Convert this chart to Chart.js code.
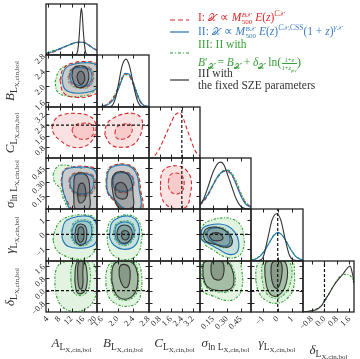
<!DOCTYPE html>
<html>
<head>
<meta charset="utf-8">
<script src="https://cdn.jsdelivr.net/npm/chart.js@4.4.1/dist/chart.umd.min.js"></script>
<style>
  body { margin: 0; background: #fff; }
  #wrap { position: relative; width: 360px; height: 359px; overflow: hidden; background: #fff; font-family: 'Liberation Serif', serif; }
  #plot { position: absolute; left: 0; top: 0; width: 360px; height: 359px; }
  #stage { position: absolute; left: -1000px; top: 0; }
  .ax { position: absolute; font-size: 13px; color: #333; white-space: nowrap; line-height: 1; }
  .ax .s1 { font-size: 9.5px; vertical-align: -3px; }
  .ax .s2 { font-size: 7px; vertical-align: -2px; }
  .lg { position: absolute; font-size: 11.5px; white-space: nowrap; line-height: 1; }
  .lg sub, .lg sup { font-size: 7.5px; line-height: 0; }
  .ss { display: inline-flex; flex-direction: column; font-size: 7px; line-height: 7px; vertical-align: middle; margin-left: 0.5px; }
  .fr { display: inline-flex; flex-direction: column; font-size: 6.5px; line-height: 7px; vertical-align: middle; text-align: center; }
  .fr span:first-child { border-bottom: 0.7px solid currentColor; }
  .x { font-family: 'DejaVu Sans', 'Noto Sans', serif; font-size: 10px; }
  .xs { font-family: 'DejaVu Sans', 'Noto Sans', serif; font-size: 6px; }
  .sw { position: absolute; }
</style>
</head>
<body>
<div id="wrap">
  <canvas id="plot" width="360" height="359"></canvas>
  <div class="lg" style="left:198px;top:11px;color:#d62728">I: <span class="x">𝒳</span> ∝ <i>M</i><span class="ss"><span><i>B</i><span class="xs">𝒳</span></span><span>500</span></span> <i>E</i>(<i>z</i>)<sup><i>C</i><span class="xs">𝒳</span></sup></div>
  <div class="lg" style="left:198px;top:25px;color:#3b7dc4">II: <span class="x">𝒳</span> ∝ <i>M</i><span class="ss"><span><i>B</i><span class="xs">𝒳</span></span><span>500</span></span> <i>E</i>(<i>z</i>)<sup><i>C</i><span class="xs">𝒳</span>,CSS</sup>(1 + <i>z</i>)<sup><i>γ</i><span class="xs">𝒳</span></sup></div>
  <div class="lg" style="left:198px;top:39px;color:#3aa03a">III: II with</div>
  <div class="lg" style="left:198px;top:55px;color:#3aa03a"><i>B</i>′<sub class="xs">𝒳</sub> = <i>B</i><sub class="xs">𝒳</sub> + <i>δ</i><sub class="xs">𝒳</sub> ln<span style="font-size:13px">(</span><span class="fr"><span>1+<i>z</i></span><span>1+<i>z</i><sub style="font-size:4.5px">piv</sub></span></span><span style="font-size:13px">)</span></div>
  <div class="lg" style="left:198px;top:68px;color:#333">III with</div>
  <div class="lg" style="left:198px;top:80px;color:#333">the fixed SZE parameters</div>
  <svg class="sw" style="left:168px;top:0px" width="24" height="90">
    <line x1="2" y1="20" x2="21" y2="20" stroke="#d62728" stroke-width="1.2" stroke-dasharray="5,3"/>
    <line x1="2" y1="32" x2="21" y2="32" stroke="#1f77b4" stroke-width="1.2"/>
    <line x1="2" y1="53" x2="21" y2="53" stroke="#2ca02c" stroke-width="1.2" stroke-dasharray="3,2,1,2"/>
    <line x1="2" y1="80" x2="21" y2="80" stroke="#333" stroke-width="1.2"/>
  </svg>
</div>
<div id="stage"></div>
<script>
// axis limits and tick labels
const rangeA = [3.5, 20.5], ticksA = [4, 8, 12, 16, 20];
const rangeB = [1.47, 2.81], ticksB = [1.6, 2.0, 2.4, 2.8];
const rangeC = [0.0, 3.73], ticksC = [0.8, 1.6, 2.4, 3.2];
const rangeS = [0.01, 0.56], ticksS = [0.15, 0.30, 0.45];
const rangeG = [-1.85, 1.75], ticksG = [-1, 0, 1];
const rangeD = [-1.38, 1.9], ticksD = [-0.8, 0.0, 0.8, 1.6];

// fixed parameter values (dashed lines)
const fixedC = 2.4, fixedG = 0, fixedD = 0;

// 1D marginals (height as fraction of panel)
const dA_x = [3.5, 6, 8, 10, 12, 14, 15.5, 17, 18.5, 20.5];
const dA_blue = [0.03, 0.07, 0.12, 0.17, 0.22, 0.25, 0.25, 0.22, 0.16, 0.08];
const dA_red = [0.02, 0.06, 0.11, 0.17, 0.22, 0.25, 0.26, 0.23, 0.17, 0.09];
const dA_green = [0.03, 0.09, 0.12, 0.16, 0.21, 0.24, 0.25, 0.22, 0.16, 0.09];
const dA_bx = [3.5, 12, 13.5, 14.1, 14.6, 15.0, 15.3, 15.6, 16.0, 16.5, 17.1, 18.5, 20.5];
const dA_black = [0, 0, 0.01, 0.1, 0.4, 0.78, 0.92, 0.78, 0.42, 0.12, 0.01, 0, 0];

const dB_x = [1.47, 1.6, 1.7, 1.8, 1.9, 2.0, 2.1, 2.2, 2.3, 2.4, 2.5, 2.6, 2.7, 2.81];
const dB_blue = [0, 0.01, 0.03, 0.07, 0.15, 0.3, 0.5, 0.65, 0.63, 0.47, 0.25, 0.09, 0.02, 0.01];
const dB_red = [0, 0.01, 0.04, 0.09, 0.18, 0.33, 0.52, 0.64, 0.6, 0.44, 0.23, 0.08, 0.02, 0.01];
const dB_green = [0, 0.02, 0.04, 0.1, 0.2, 0.36, 0.55, 0.62, 0.6, 0.48, 0.28, 0.1, 0.03, 0.01];
const dB_bx = [1.47, 1.75, 1.85, 1.95, 2.03, 2.12, 2.22, 2.31, 2.41, 2.5, 2.6, 2.81];
const dB_black = [0, 0, 0.02, 0.18, 0.47, 0.8, 0.92, 0.78, 0.42, 0.15, 0.02, 0];

const dC_x = [0, 0.3, 0.7, 1.1, 1.5, 1.9, 2.2, 2.5, 2.8, 3.1, 3.4, 3.73];
const dC_red = [0, 0.02, 0.15, 0.38, 0.62, 0.84, 0.89, 0.78, 0.55, 0.33, 0.13, 0.04];

const dS_x = [0.01, 0.05, 0.1, 0.15, 0.2, 0.25, 0.3, 0.35, 0.4, 0.45, 0.5, 0.56];
const dS_blue = [0.1, 0.17, 0.3, 0.47, 0.63, 0.73, 0.76, 0.68, 0.48, 0.26, 0.1, 0.03];
const dS_red = [0.08, 0.15, 0.28, 0.46, 0.62, 0.72, 0.74, 0.67, 0.5, 0.28, 0.12, 0.04];
const dS_green = [0.1, 0.18, 0.31, 0.48, 0.64, 0.74, 0.77, 0.71, 0.55, 0.32, 0.14, 0.05];
const dS_bx = [0.01, 0.05, 0.1, 0.15, 0.2, 0.235, 0.27, 0.31, 0.35, 0.4, 0.45, 0.5, 0.56];
const dS_black = [0.08, 0.2, 0.45, 0.72, 0.89, 0.92, 0.86, 0.66, 0.45, 0.2, 0.05, 0.01, 0];

const dG_x = [-1.85, -1.5, -1.2, -0.9, -0.6, -0.3, 0.02, 0.3, 0.6, 0.9, 1.2, 1.5, 1.75];
const dG_blue = [0.01, 0.04, 0.1, 0.2, 0.34, 0.48, 0.55, 0.5, 0.37, 0.22, 0.1, 0.04, 0.02];
const dG_green = [0.02, 0.05, 0.11, 0.21, 0.35, 0.49, 0.54, 0.5, 0.38, 0.23, 0.11, 0.05, 0.02];
const dG_bx = [-1.85, -1.3, -1.0, -0.7, -0.4, -0.09, 0.2, 0.5, 0.8, 1.1, 1.75];
const dG_black = [0, 0.01, 0.08, 0.42, 0.78, 0.91, 0.8, 0.44, 0.12, 0.02, 0];

const dD_x = [-1.38, -0.9, -0.5, -0.2, 0, 0.3, 0.6, 0.9, 1.2, 1.5, 1.65, 1.8, 1.9];
const dD_black = [0, 0.02, 0.05, 0.12, 0.22, 0.36, 0.52, 0.64, 0.75, 0.87, 0.9, 0.75, 0.58];
const dD_gx = [-1.38, -0.8, -0.3, 0, 0.4, 0.8, 1.1, 1.4, 1.6, 1.8, 1.9];
const dD_green = [0, 0.03, 0.1, 0.2, 0.42, 0.62, 0.72, 0.74, 0.72, 0.65, 0.55];

// 2D contours: [outer, inner], points [x, y]
const BA_green = [[[6.48,2.11],[8.14,2.43],[11.45,2.56],[15.43,2.61],[19.08,2.58],[20.7,2.43],[20.7,2.11],[19.08,1.85],[15.43,1.75],[10.79,1.75],[7.48,1.85]],
  [[10.79,2.22],[11.79,2.43],[14.77,2.50],[18.08,2.48],[19.41,2.27],[18.08,2.01],[14.1,1.96],[11.45,2.06]]];
const BA_red = [[[8.14,2.16],[9.47,2.48],[12.78,2.61],[16.76,2.64],[20.4,2.58],[21.4,2.30],[21.1,1.90],[18.08,1.75],[13.44,1.72],[9.47,1.83]],
  [[11.12,2.24],[12.12,2.45],[15.43,2.50],[18.41,2.45],[19.08,2.22],[17.75,2.01],[14.1,1.98],[11.79,2.09]]];
const BA_blue = [[[8.8,2.22],[10.13,2.48],[13.11,2.58],[16.76,2.61],[20.07,2.56],[21.06,2.30],[20.4,1.96],[17.42,1.85],[13.11,1.83],[9.8,1.93]],
  [[11.45,2.27],[12.45,2.45],[15.43,2.48],[18.08,2.43],[18.74,2.22],[17.42,2.03],[14.1,2.03],[12.12,2.11]]];
const BA_black = [[[12.12,2.27],[12.78,2.48],[14.77,2.53],[16.76,2.50],[17.75,2.32],[17.42,2.11],[15.76,1.98],[13.44,2.01]],
  [[13.77,2.24],[14.44,2.37],[15.76,2.37],[16.43,2.24],[16.09,2.11],[14.77,2.06]]];

const CA_red = [[[5.49,2.25],[6.81,2.90],[9.47,3.19],[13.44,3.26],[17.42,3.12],[19.74,2.68],[20.07,1.96],[18.74,1.23],[15.43,0.79],[11.45,0.86],[8.14,1.30],[6.15,1.74]],
  [[12.12,2.03],[13.11,2.39],[15.76,2.54],[18.41,2.47],[19.41,2.03],[18.41,1.52],[15.43,1.37],[13.11,1.59]]];
const CB_red = [[[1.67,1.67],[1.72,2.47],[1.88,2.90],[2.12,3.19],[2.40,3.26],[2.59,2.97],[2.64,2.32],[2.56,1.52],[2.38,0.94],[2.12,0.79],[1.85,0.94]],
  [[1.93,1.81],[1.98,2.25],[2.14,2.47],[2.32,2.47],[2.38,2.10],[2.30,1.59],[2.12,1.37],[1.98,1.45]]];

const SA_green = [[[5.82,0.376],[7.15,0.462],[9.47,0.484],[14.77,0.452],[19.08,0.452],[20.7,0.345],[20.7,0.109],[19.74,-0.01],[12.12,-0.01],[9.47,0.109],[8.14,0.237],[6.48,0.291]],
  [[11.3,0.33],[12.8,0.39],[16.4,0.4],[19.4,0.36],[20,0.26],[18.4,0.17],[14.5,0.15],[11.8,0.22]]];
const SA_blue = [[[8.8,0.323],[9.47,0.42],[11.45,0.452],[14.77,0.462],[18.08,0.452],[20.07,0.409],[20.7,0.216],[20.07,0.012],[12.12,0.001],[10.13,0.109],[9.13,0.216]],
  [[11.45,0.323],[12.78,0.377],[16.09,0.387],[18.74,0.366],[19.41,0.28],[18.08,0.194],[14.77,0.173],[12.12,0.227]]];
const SA_red = [[[8.5,0.31],[9.5,0.43],[12.1,0.46],[16.4,0.47],[20.1,0.43],[20.9,0.25],[20.7,0.05],[19.7,-0.01],[13,-0.01],[10.5,0.1],[9.2,0.2]],
  [[11.1,0.32],[12.5,0.39],[16.1,0.40],[19.1,0.37],[19.8,0.27],[18.4,0.18],[14.8,0.16],[12,0.21]]];
const SA_black = [[[12.78,0.27],[13.11,0.366],[14.44,0.398],[16.43,0.387],[17.75,0.323],[18.08,0.162],[17.75,0.012],[13.44,0.012],[12.78,0.13]],
  [[14.1,0.216],[14.77,0.28],[16.09,0.28],[16.76,0.194],[16.43,0.109],[14.77,0.076],[14.1,0.141]]];

const SB_blue = [[[1.72,0.323],[1.78,0.43],[1.93,0.473],[2.17,0.484],[2.38,0.452],[2.51,0.366],[2.56,0.216],[2.61,0.055],[2.53,0.001],[2.19,0.012],[1.93,0.109],[1.75,0.194]],
  [[1.88,0.323],[1.96,0.387],[2.17,0.398],[2.35,0.366],[2.40,0.28],[2.30,0.216],[2.06,0.205],[1.91,0.248]]];
const SB_red = [[[1.71,0.31],[1.77,0.44],[1.92,0.485],[2.18,0.495],[2.40,0.46],[2.54,0.37],[2.6,0.2],[2.66,0.05],[2.6,-0.01],[2.18,0.0],[1.91,0.1],[1.74,0.19]],
  [[1.86,0.32],[1.95,0.4],[2.18,0.41],[2.37,0.37],[2.42,0.27],[2.33,0.2],[2.05,0.19],[1.9,0.24]]];
const SB_green = [[[1.7,0.32],[1.76,0.44],[1.92,0.48],[2.17,0.49],[2.4,0.46],[2.53,0.37],[2.58,0.21],[2.63,0.05],[2.55,-0.01],[2.17,0.0],[1.91,0.1],[1.73,0.2]],
  [[1.87,0.33],[1.96,0.39],[2.17,0.405],[2.36,0.37],[2.41,0.28],[2.31,0.21],[2.06,0.2],[1.9,0.25]]];
const SB_black = [[[1.85,0.27],[1.88,0.366],[2.01,0.409],[2.22,0.398],[2.35,0.323],[2.40,0.162],[2.38,0.023],[2.06,0.012],[1.91,0.13]],
  [[1.93,0.216],[1.98,0.28],[2.14,0.291],[2.25,0.216],[2.22,0.13],[2.06,0.12],[1.96,0.152]]];

const SC_red = [[[0.83,0.27],[0.97,0.409],[1.41,0.462],[2.14,0.473],[2.72,0.43],[3.08,0.323],[3.01,0.162],[2.72,0.033],[1.99,0.012],[1.27,0.055],[0.90,0.152]],
  [[1.41,0.302],[1.56,0.377],[1.99,0.398],[2.43,0.366],[2.57,0.27],[2.36,0.194],[1.85,0.173],[1.48,0.227]]];

const GA_green = [[[5.82,-0.41],[6.81,0.43],[8.8,0.99],[12.12,1.27],[16.43,1.34],[19.74,1.13],[20.7,0.29],[20.4,-0.76],[18.08,-1.53],[14.1,-1.74],[10.13,-1.53],[7.15,-1.11]],
  [[11.8,0.2],[12.8,0.8],[15.4,1.0],[18.4,0.85],[19.1,0.15],[18.1,-0.55],[14.8,-0.8],[12.4,-0.45]]];
const GA_blue = [[[8.8,0.15],[9.8,0.85],[12.12,1.13],[15.76,1.27],[19.08,1.13],[20.4,0.57],[20.4,-0.41],[18.74,-0.83],[14.77,-0.97],[10.79,-0.83],[9.13,-0.41]],
  [[12.12,0.15],[13.11,0.71],[15.43,0.92],[18.08,0.78],[18.74,0.15],[17.75,-0.48],[14.77,-0.69],[12.78,-0.41]]];
const GA_black = [[[13.11,0.01],[13.77,0.57],[15.1,0.71],[16.76,0.5],[17.09,-0.13],[16.43,-0.62],[14.77,-0.76],[13.44,-0.48]],
  [[14.1,0.01],[14.44,0.43],[15.43,0.5],[16.09,0.29],[16.09,-0.27],[15.1,-0.55],[14.1,-0.34]]];

const GB_green = [[[1.72,0.15],[1.80,0.85],[1.98,1.2],[2.25,1.34],[2.48,1.13],[2.61,0.43],[2.61,-0.55],[2.51,-1.39],[2.27,-1.74],[1.96,-1.6],[1.78,-0.97]],
  [[1.9,0.15],[1.96,0.7],[2.17,0.92],[2.37,0.78],[2.45,0.15],[2.37,-0.48],[2.17,-0.78],[1.96,-0.48]]];
const GB_blue = [[[1.80,0.15],[1.85,0.78],[2.01,1.13],[2.25,1.27],[2.45,1.06],[2.56,0.43],[2.53,-0.41],[2.40,-0.9],[2.14,-1.04],[1.91,-0.76],[1.80,-0.27]],
  [[1.93,0.15],[1.98,0.64],[2.17,0.85],[2.35,0.71],[2.43,0.15],[2.35,-0.41],[2.17,-0.69],[1.98,-0.41]]];
const GB_black = [[[1.98,0.08],[2.04,0.5],[2.17,0.64],[2.32,0.5],[2.38,0.01],[2.30,-0.48],[2.14,-0.62],[2.01,-0.34]],
  [[2.09,0.01],[2.14,0.22],[2.25,0.22],[2.30,-0.06],[2.25,-0.34],[2.14,-0.34]]];

const GS_green = [[[0.021,0.15],[0.053,0.71],[0.139,0.99],[0.246,1.13],[0.353,1.06],[0.439,0.71],[0.482,-0.13],[0.471,-1.11],[0.396,-1.6],[0.267,-1.53],[0.16,-1.11],[0.064,-0.69]],
  [[0.06,0.05],[0.11,0.42],[0.21,0.5],[0.3,0.27],[0.35,-0.3],[0.32,-0.85],[0.22,-0.85],[0.11,-0.45]]];
const GS_blue = [[[0.021,0.01],[0.042,0.43],[0.117,0.64],[0.214,0.71],[0.31,0.57],[0.385,0.15],[0.428,-0.55],[0.407,-1.25],[0.321,-1.39],[0.214,-1.04],[0.096,-0.62],[0.031,-0.41]],
  [[0.074,0.01],[0.117,0.36],[0.203,0.43],[0.289,0.22],[0.332,-0.27],[0.31,-0.76],[0.224,-0.76],[0.117,-0.41]]];
const GS_black = [[[0.042,-0.06],[0.074,0.36],[0.16,0.5],[0.257,0.36],[0.342,-0.13],[0.353,-0.69],[0.289,-0.9],[0.171,-0.69],[0.074,-0.48]],
  [[0.107,-0.13],[0.149,0.08],[0.214,0.08],[0.257,-0.2],[0.235,-0.41],[0.149,-0.41]]];

const DA_green = [[[6.48,0.33],[6.81,1.29],[8.8,1.8],[13.11,1.93],[18.08,1.93],[20.07,1.42],[20.4,0.33],[19.41,-0.63],[16.43,-1.2],[12.12,-1.33],[8.8,-1.01],[7.15,-0.43]],
  [[11.79,0.65],[12.12,1.61],[14.1,1.93],[16.76,1.93],[18.08,1.42],[18.08,0.4],[16.76,-0.18],[14.1,-0.31],[12.45,0.01]]];
const DA_black = [[[13.11,0.65],[13.44,1.61],[14.44,1.93],[16.09,1.93],[17.09,1.29],[17.09,0.33],[16.09,-0.11],[14.1,-0.18],[13.44,0.14]],
  [[14.1,0.78],[14.1,1.55],[14.77,1.93],[15.76,1.93],[15.76,1.16],[15.76,0.33],[15.1,0.08],[14.44,0.27]]];

const DB_green = [[[1.70,0.33],[1.72,1.29],[1.85,1.8],[2.19,1.93],[2.51,1.8],[2.61,1.16],[2.61,0.01],[2.51,-0.75],[2.27,-1.01],[1.98,-0.88],[1.78,-0.43]],
  [[1.83,0.65],[1.85,1.61],[2.01,1.93],[2.35,1.93],[2.51,1.42],[2.53,0.27],[2.43,-0.37],[2.17,-0.63],[1.93,-0.31]]];
const DB_black = [[[1.85,0.65],[1.88,1.55],[2.01,1.87],[2.32,1.87],[2.48,1.42],[2.51,0.33],[2.40,-0.31],[2.17,-0.56],[1.96,-0.24]],
  [[2.04,0.97],[2.06,1.55],[2.17,1.68],[2.30,1.48],[2.32,0.78],[2.27,0.27],[2.17,0.21],[2.09,0.53]]];

const DS_green = [[[0.021,0.33],[0.021,1.42],[0.074,1.93],[0.246,2.0],[0.417,1.93],[0.46,1.29],[0.46,0.14],[0.396,-0.5],[0.289,-0.63],[0.16,-0.37],[0.053,-0.11]],
  [[0.03,0.97],[0.045,1.85],[0.11,2.0],[0.29,2.0],[0.365,1.42],[0.39,0.5],[0.34,0.0],[0.2,-0.08],[0.075,0.25]]];
const DS_black = [[[0.042,0.97],[0.053,1.8],[0.117,1.93],[0.278,1.93],[0.353,1.42],[0.375,0.53],[0.332,0.08],[0.203,0.01],[0.085,0.27]],
  [[0.128,1.29],[0.139,1.8],[0.203,1.93],[0.257,1.8],[0.267,1.16],[0.235,0.72],[0.171,0.72],[0.139,0.97]]];

const DG_green = [[[-1.52,0.65],[-1.45,1.55],[-1.1,1.93],[0.16,2.0],[1.01,1.87],[1.15,1.16],[1.08,0.14],[0.66,-0.5],[-0.05,-0.82],[-0.82,-0.63],[-1.31,-0.11]],
  [[-1.1,0.78],[-1.03,1.74],[-0.54,2.0],[0.52,2.0],[0.94,1.55],[0.87,0.46],[0.45,-0.24],[-0.19,-0.5],[-0.82,-0.11]]];
const DG_black = [[[-0.89,0.97],[-0.82,1.8],[-0.4,1.93],[0.37,1.93],[0.66,1.42],[0.59,0.46],[0.23,-0.18],[-0.26,-0.37],[-0.68,0.01]],
  [[-0.47,1.1],[-0.4,1.74],[-0.12,1.93],[0.23,1.8],[0.3,1.16],[0.16,0.46],[-0.05,0.14],[-0.33,0.4]]];

// ---------- drawing ----------
// each panel is a Chart.js chart on one work canvas, copied into the visible canvas
const wrap = document.getElementById('wrap');
const plot = document.getElementById('plot').getContext('2d');
const work = document.createElement('canvas');
document.getElementById('stage').appendChild(work);

const colL = [46, 97, 149, 200, 251, 303, 354];
const rowT = [4, 55, 107, 158, 209, 261, 312];

const pA = { range: rangeA, ticks: ticksA, dec: 0 };
const pB = { range: rangeB, ticks: ticksB, dec: 1 };
const pC = { range: rangeC, ticks: ticksC, dec: 1 };
const pS = { range: rangeS, ticks: ticksS, dec: 2 };
const pG = { range: rangeG, ticks: ticksG, dec: 0 };
const pD = { range: rangeD, ticks: ticksD, dec: 1 };
const params = [pA, pB, pC, pS, pG, pD];

const COL = { red: '#d62728', blue: '#1f77b4', green: '#2ca02c', black: '#333333' };
const FILL = { red: 'rgba(235,110,110,0.2)', blue: 'rgba(80,145,205,0.2)', green: 'rgba(110,195,110,0.2)', black: 'rgba(45,45,45,0.24)' };
const DASH = { red: [4, 2.5], blue: [], green: [2.5, 1.5, 1, 1.5], black: [] };

function contour(c, s) {
  return c.map(pts => {
    const d = pts.map(([x, y]) => ({ x, y }));
    d.push(d[0]);
    return { data: d, showLine: true, pointRadius: 0, tension: 0.45, borderWidth: 1.1,
      borderColor: COL[s], borderDash: DASH[s], backgroundColor: FILL[s], fill: 'shape' };
  });
}
function curve(xs, ys, s) {
  return { data: xs.map((x, k) => ({ x, y: ys[k] })), showLine: true, pointRadius: 0,
    cubicInterpolationMode: 'monotone', borderWidth: 1.1, borderColor: COL[s], borderDash: DASH[s], fill: false };
}
function refH(v, p) {
  return { data: [{ x: p.range[0], y: v }, { x: p.range[1], y: v }], showLine: true, pointRadius: 0,
    borderColor: '#111', borderWidth: 1.2, borderDash: [3, 2], fill: false };
}
function refV(v, r) {
  return { data: [{ x: v, y: r[0] }, { x: v, y: r[1] }], showLine: true, pointRadius: 0,
    borderColor: '#111', borderWidth: 1.2, borderDash: [3, 2], fill: false };
}
function fmt(v, dec) {
  return v.toFixed(dec).replace('-', '\u2212');
}

const frame = {
  id: 'frame',
  afterDraw(chart) {
    const { ctx, chartArea: a } = chart;
    const xs = chart.scales.x, ys = chart.scales.y;
    ctx.save();
    ctx.strokeStyle = '#222';
    ctx.lineWidth = 1;
    ctx.setLineDash([]);
    ctx.beginPath();
    xs.ticks.forEach(t => {
      const p = Math.round(xs.getPixelForValue(t.value)) + 0.5;
      if (p > a.left + 1 && p < a.right - 1) {
        ctx.moveTo(p, a.bottom); ctx.lineTo(p, a.bottom - 3.5);
        ctx.moveTo(p, a.top); ctx.lineTo(p, a.top + 3.5);
      }
    });
    if (chart.options.scales.y.display !== false) {
      ys.ticks.forEach(t => {
        const p = Math.round(ys.getPixelForValue(t.value)) + 0.5;
        if (p > a.top + 1 && p < a.bottom - 1) {
          ctx.moveTo(a.left, p); ctx.lineTo(a.left + 3.5, p);
          ctx.moveTo(a.right, p); ctx.lineTo(a.right - 3.5, p);
        }
      });
    }
    ctx.stroke();
    ctx.lineWidth = 1.3;
    ctx.strokeRect(a.left, a.top, a.right - a.left, a.bottom - a.top);
    ctx.restore();
  }
};

function axis(p, show, dir, size) {
  return {
    type: 'linear', min: p.range[0], max: p.range[1],
    position: dir === 'x' ? 'bottom' : 'left',
    grid: { display: false, drawTicks: false }, border: { display: false },
    ticks: { display: show, autoSkip: false, minRotation: 45, maxRotation: 45, padding: 2, color: '#222',
      font: { family: 'Liberation Serif', size: 8.5 }, callback: v => fmt(v, p.dec) },
    afterBuildTicks: s => { s.ticks = p.ticks.map(v => ({ value: v })); },
    afterFit: s => {
      if (dir === 'x') { s.height = size; s.paddingLeft = 0; s.paddingRight = 0; }
      else { s.width = size; s.paddingTop = 0; s.paddingBottom = 0; }
    }
  };
}

function makePanel(i, j, datasets) {
  const L = colL[j], R = colL[j + 1], T = rowT[i], B = rowT[i + 1];
  const yAx = j === 0 && i > 0, xAx = i === 5, m = 3;
  const cx = yAx ? 0 : L - m, cy = T - m;
  const cw = R + m - cx, ch = (xAx ? 359 : B + m) - cy;
  work.width = cw; work.height = ch;
  work.style.width = cw + 'px'; work.style.height = ch + 'px';
  const diag = i === j;
  const chart = new Chart(work, {
    type: 'scatter',
    data: { datasets },
    options: {
      responsive: false, animation: false, devicePixelRatio: 1,
      layout: { padding: { left: yAx ? 0 : m, right: m, top: m, bottom: xAx ? 0 : m } },
      plugins: { legend: { display: false }, tooltip: { enabled: false } },
      scales: {
        x: axis(params[j], xAx, 'x', xAx ? 359 - B : 0),
        y: diag ? { min: 0, max: 1, display: false } : axis(params[i], yAx, 'y', yAx ? L : 0)
      }
    },
    plugins: [frame]
  });
  plot.drawImage(work, cx, cy);
  chart.destroy();
}

// diagonal
makePanel(0, 0, [curve(dA_bx, dA_black, 'black'), curve(dA_x, dA_blue, 'blue'), curve(dA_x, dA_red, 'red'), curve(dA_x, dA_green, 'green')]);
makePanel(1, 1, [curve(dB_bx, dB_black, 'black'), curve(dB_x, dB_blue, 'blue'), curve(dB_x, dB_red, 'red'), curve(dB_x, dB_green, 'green')]);
makePanel(2, 2, [refV(fixedC, [0, 1]), curve(dC_x, dC_red, 'red')]);
makePanel(3, 3, [curve(dS_bx, dS_black, 'black'), curve(dS_x, dS_blue, 'blue'), curve(dS_x, dS_red, 'red'), curve(dS_x, dS_green, 'green')]);
makePanel(4, 4, [refV(fixedG, [0, 1]), curve(dG_bx, dG_black, 'black'), curve(dG_x, dG_blue, 'blue'), curve(dG_x, dG_green, 'green')]);
makePanel(5, 5, [refV(fixedD, [0, 1]), curve(dD_x, dD_black, 'black'), curve(dD_gx, dD_green, 'green')]);

// off-diagonal
makePanel(1, 0, [...contour(BA_black, 'black'), ...contour(BA_blue, 'blue'), ...contour(BA_red, 'red'), ...contour(BA_green, 'green')]);
makePanel(2, 0, [refH(fixedC, pA), ...contour(CA_red, 'red')]);
makePanel(2, 1, [refH(fixedC, pB), ...contour(CB_red, 'red')]);
makePanel(3, 0, [...contour(SA_black, 'black'), ...contour(SA_blue, 'blue'), ...contour(SA_red, 'red'), ...contour(SA_green, 'green')]);
makePanel(3, 1, [...contour(SB_black, 'black'), ...contour(SB_blue, 'blue'), ...contour(SB_red, 'red'), ...contour(SB_green, 'green')]);
makePanel(3, 2, [refV(fixedC, rangeS), ...contour(SC_red, 'red')]);
makePanel(4, 0, [refH(fixedG, pA), ...contour(GA_black, 'black'), ...contour(GA_blue, 'blue'), ...contour(GA_green, 'green')]);
makePanel(4, 1, [refH(fixedG, pB), ...contour(GB_black, 'black'), ...contour(GB_blue, 'blue'), ...contour(GB_green, 'green')]);
makePanel(4, 2, []);
makePanel(4, 3, [refH(fixedG, pS), ...contour(GS_black, 'black'), ...contour(GS_blue, 'blue'), ...contour(GS_green, 'green')]);
makePanel(5, 0, [refH(fixedD, pA), ...contour(DA_black, 'black'), ...contour(DA_green, 'green')]);
makePanel(5, 1, [refH(fixedD, pB), ...contour(DB_black, 'black'), ...contour(DB_green, 'green')]);
makePanel(5, 2, []);
makePanel(5, 3, [refH(fixedD, pS), ...contour(DS_black, 'black'), ...contour(DS_green, 'green')]);
makePanel(5, 4, [refH(fixedD, pG), refV(fixedG, rangeD), ...contour(DG_black, 'black'), ...contour(DG_green, 'green')]);

// axis titles
const sub = '<span class="s1">L<span class="s2">X,cin,bol</span></span>';
const titles = [
  '<i>A</i>' + sub, '<i>B</i>' + sub, '<i>C</i>' + sub,
  '<i>σ</i><span class="s1">ln L<span class="s2">X,cin,bol</span></span>',
  '<i>γ</i>' + sub, '<i>δ</i>' + sub
];
titles.forEach((h, k) => {
  const cxm = (colL[k] + colL[k + 1]) / 2;
  const d = document.createElement('div');
  d.className = 'ax';
  d.innerHTML = h;
  d.style.left = cxm + 'px';
  d.style.top = (k === 5 ? 343 : 336) + 'px';
  d.style.transform = 'translateX(-50%)';
  wrap.appendChild(d);
  if (k > 0) {
    const cym = (rowT[k] + rowT[k + 1]) / 2;
    const e = document.createElement('div');
    e.className = 'ax';
    e.innerHTML = h;
    e.style.left = '12px';
    e.style.top = cym + 'px';
    e.style.transform = 'translate(-50%,-50%) rotate(-90deg)';
    wrap.appendChild(e);
  }
});
</script>
</body>
</html>
